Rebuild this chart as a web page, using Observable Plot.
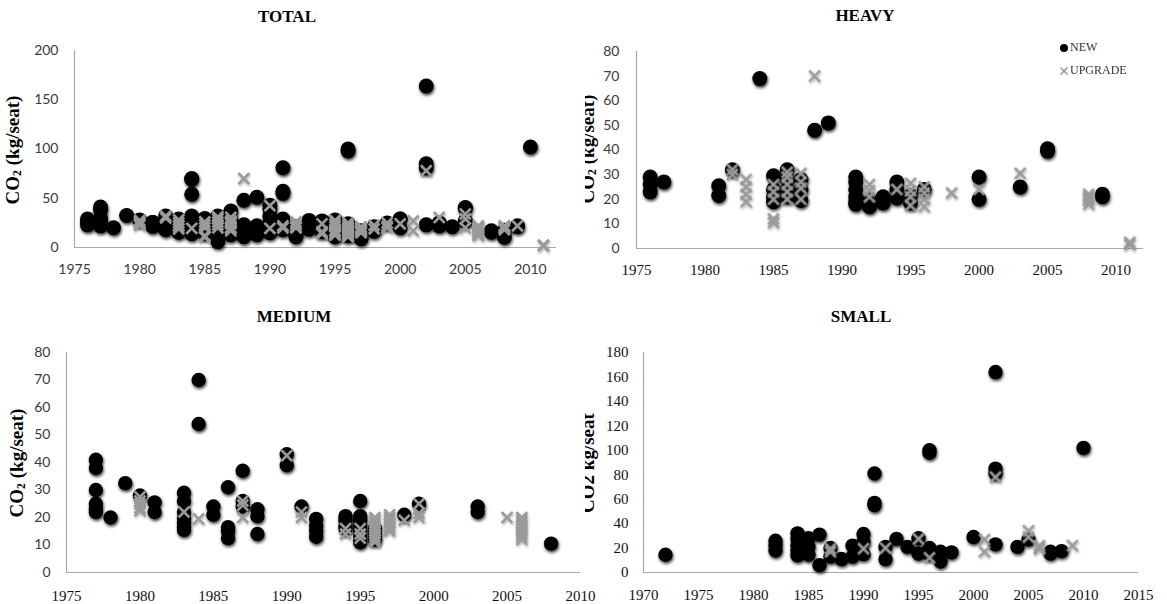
<!DOCTYPE html>
<html><head><meta charset="utf-8">
<script src="https://cdn.jsdelivr.net/npm/d3@7"></script>
<script src="https://cdn.jsdelivr.net/npm/@observablehq/plot@0.6"></script>
<style>
html,body{margin:0;padding:0;background:#fff;}
#chart{position:relative;width:1167px;height:604px;background:#fff;overflow:hidden;}
.panel{position:absolute;}
.clip{overflow:hidden;}
.title{position:absolute;transform:translate(-50%,-50%);font-family:"Liberation Serif",serif;font-weight:bold;font-size:17px;white-space:nowrap;color:#000;}
.ytitle{position:absolute;transform:translate(-50%,-50%) rotate(-90deg);font-family:"Liberation Serif",serif;font-weight:bold;font-size:19px;white-space:nowrap;color:#000;}
.ytitle sub{font-size:0.62em;vertical-align:-0.15em;line-height:0;}
.legend{position:absolute;font-family:"Liberation Serif",serif;font-size:12px;color:#333;}
.legend .row{position:absolute;white-space:nowrap;display:flex;align-items:center;}
.ax-sans-y g[aria-label^="y-axis"] text{font-family:Lato,sans-serif;font-size:14px;fill:#3a3a3a;}
.ax-sans-x g[aria-label^="x-axis"] text{font-family:Lato,sans-serif;font-size:14px;fill:#3a3a3a;}
.ax-serif-y g[aria-label^="y-axis"] text{font-family:"Liberation Serif",serif;font-size:15px;fill:#111;}
.ax-serif-x g[aria-label^="x-axis"] text{font-family:"Liberation Serif",serif;font-size:15px;fill:#111;}
</style>
</head><body>
<div id="chart">
  <div class="panel ax-sans-x ax-sans-y" id="p-total" style="left:0;top:0;width:583px;height:300px;"></div>
  <div class="panel clip ax-serif-x ax-sans-y" id="p-heavy" style="left:585px;top:0;width:582px;height:300px;"></div>
  <div class="panel ax-serif-x ax-sans-y" id="p-medium" style="left:0;top:300px;width:600px;height:304px;"></div>
  <div class="panel clip ax-serif-x ax-serif-y" id="p-small" style="left:585px;top:300px;width:582px;height:304px;"></div>
  <div class="title" style="left:287px;top:17px;">TOTAL</div>
  <div class="title" style="left:865px;top:16px;">HEAVY</div>
  <div class="title" style="left:294px;top:317px;">MEDIUM</div>
  <div class="title" style="left:861px;top:317px;">SMALL</div>
  <div class="ytitle" style="left:13px;top:150px;">CO<sub>2</sub> (kg/seat)</div>
  <div class="ytitle" style="left:17px;top:463px;">CO<sub>2</sub> (kg/seat)</div>
</div>
<script>
// ---------- DATA: [year, CO2 kg/seat] ----------
const heavyNew = [
  [1976,29],[1976,26],[1976,23],
  [1977,27],
  [1981,25.5],[1981,21.5],
  [1982,32],
  [1984,69],
  [1985,29.5],[1985,24],[1985,21],[1985,19],
  [1986,32],[1986,28],[1986,24],[1986,21],
  [1987,28],[1987,24],[1987,19.5],
  [1988,48],
  [1989,51],
  [1991,29],[1991,27],[1991,24],[1991,21],[1991,19],[1991,18],
  [1992,20],[1992,17],
  [1993,21],[1993,18.5],
  [1994,27],[1994,24],[1994,20.5],
  [1995,21.5],[1995,18.5],
  [1996,24],
  [2000,29],[2000,20],
  [2003,25],
  [2005,40.5],[2005,39.5],
  [2009,22],[2009,21]
];
const heavyUpgrade = [
  [1982,32],[1982,30],
  [1983,28],[1983,25],[1983,22],[1983,19],
  [1985,26],[1985,23],[1985,20],[1985,12],[1985,10.5],
  [1986,31],[1986,29],[1986,26],[1986,23],[1986,20],
  [1987,30.5],[1987,27],[1987,24.5],[1987,20],
  [1988,70],
  [1992,26],[1992,23.5],[1992,21],
  [1994,24],
  [1995,26.5],[1995,23.5],[1995,21],[1995,17.5],
  [1996,25],[1996,22.5],[1996,20],[1996,17],
  [1998,22.5],
  [2000,24],
  [2003,30.5],
  [2008,22],[2008,21],[2008,20],[2008,19.5],[2008,18],
  [2011,2.5],[2011,1.5]
];
const mediumNew = [
  [1977,41],[1977,38],[1977,30],[1977,25],[1977,23],[1977,22],
  [1978,20],
  [1979,32.5],
  [1980,28],
  [1981,25.5],[1981,22],
  [1983,29],[1983,26],[1983,22],[1983,19.5],[1983,18],[1983,16.5],[1983,15.5],
  [1984,70],[1984,54],
  [1985,24],[1985,21],
  [1986,31],[1986,16.5],[1986,15],[1986,12.5],
  [1987,37],[1987,26],[1987,24],
  [1988,23],[1988,20.5],[1988,14],
  [1990,43],[1990,39],
  [1991,24],
  [1992,19.5],[1992,17],[1992,15],[1992,13],
  [1994,20.5],[1994,19],[1994,17],[1994,16],
  [1995,26],[1995,20.5],[1995,19],[1995,17],[1995,15],[1995,13],[1995,11],
  [1996,16],[1996,14],[1996,12],
  [1998,21],
  [1999,25],
  [2003,24],[2003,22],
  [2008,10.5]
];
const mediumUpgrade = [
  [1980,27.5],[1980,26],[1980,25],[1980,23.5],[1980,22.5],
  [1983,22],
  [1984,19.5],
  [1987,26],[1987,24.5],[1987,20],
  [1990,42.5],
  [1991,22],[1991,20],
  [1994,16],[1994,14],
  [1995,16],[1995,14],[1995,12.5],
  [1996,20],[1996,19],[1996,18],[1996,17],[1996,16],[1996,15],[1996,14],[1996,13],[1996,12],[1996,11],
  [1997,21],[1997,20],[1997,19],[1997,18],[1997,17],[1997,16],[1997,15],
  [1998,19],
  [1999,25],[1999,21.5],[1999,20],
  [2005,20],
  [2006,20],[2006,19],[2006,18],[2006,17],[2006,16],[2006,15],[2006,14],[2006,13],[2006,12]
];
const smallNew = [
  [1972,14.5],
  [1982,26],[1982,22],[1982,18],
  [1984,32],[1984,27.5],[1984,22],[1984,18],[1984,14],
  [1985,28],[1985,21],[1985,14.5],
  [1986,31],[1986,6],
  [1987,20],[1987,13],
  [1988,11],
  [1989,22],[1989,13],
  [1990,31.5],[1990,25],[1990,15],
  [1991,81],[1991,57],[1991,55],
  [1992,21],[1992,11],
  [1993,27.5],
  [1994,21],
  [1995,28],[1995,15.5],
  [1996,100],[1996,98],[1996,20],[1996,15],
  [1997,17],[1997,9],
  [1998,16.5],
  [2000,29],
  [2002,164],[2002,85],[2002,81],[2002,23],
  [2004,21],
  [2005,27],
  [2007,17],[2007,15.5],
  [2008,17.5],
  [2010,102]
];
const smallUpgrade = [
  [1987,19.5],[1987,17],
  [1990,19.5],
  [1992,20],
  [1995,27.5],
  [1996,12],
  [2001,27],[2001,17],
  [2002,78],
  [2005,34],[2005,29],
  [2006,22],[2006,20],[2006,19],
  [2009,22]
];
// TOTAL is the union of the three classes (points outside its 1975-2012 axis are not shown)
const totalNew = [...heavyNew, ...mediumNew, ...smallNew];
const totalUpgrade = [...heavyUpgrade, ...mediumUpgrade, ...smallUpgrade];

// ---------- TICKS ----------
const yearTicks7510 = [1975,1980,1985,1990,1995,2000,2005,2010];
const yearTicks7015 = [1970,1975,1980,1985,1990,1995,2000,2005,2010,2015];
const totalYTicks = [0,50,100,150,200];
const heavyYTicks = [0,10,20,30,40,50,60,70,80];
const mediumYTicks = [0,10,20,30,40,50,60,70,80];
const smallYTicks = [0,20,40,60,80,100,120,140,160,180];

const seriesNames = ["NEW","UPGRADE"];

let fid = 0;
function panel(elId, o) {
  const inDomain = d => d[0] >= o.xDomain[0] && d[0] <= o.xDomain[1];
  const p = Plot.plot({
    width: o.width, height: o.height,
    marginLeft: o.ml, marginRight: o.mr, marginTop: o.mt, marginBottom: o.mb,
    style: {background: "transparent", overflow: "visible", maxWidth: "none", color: "#222"},
    x: {domain: o.xDomain, ticks: o.xTicks, tickFormat: d => String(d), tickSize: 0, tickPadding: o.xPad, label: null},
    y: {domain: o.yDomain, ticks: o.yTicks, tickSize: 0, tickPadding: o.yPad, label: null},
    marks: [
      Plot.ruleY([o.yDomain[0]], {stroke: "#a8a8a8", strokeWidth: 1.2}),
      Plot.ruleX([o.xDomain[0]], {stroke: "#a8a8a8", strokeWidth: 1.2}),
      Plot.dot(o.newData.filter(inDomain), {x: d => d[0], y: d => d[1], r: o.r, fill: "#000", stroke: "none"}),
      Plot.dot(o.upData.filter(inDomain), {x: d => d[0], y: d => d[1], r: 5, symbol: "times", stroke: "#9a9a9a", strokeWidth: 2.6})
    ]
  });
  const ns = "http://www.w3.org/2000/svg";
  const defs = document.createElementNS(ns, "defs");
  const id = fid++;
  defs.innerHTML =
    `<filter id="shN${id}" x="-50%" y="-50%" width="200%" height="200%"><feDropShadow dx="0.8" dy="2" stdDeviation="1.6" flood-color="#000" flood-opacity="0.75"/></filter>` +
    `<filter id="shU${id}" x="-50%" y="-50%" width="200%" height="200%"><feDropShadow dx="0.6" dy="1.5" stdDeviation="1.2" flood-color="#000" flood-opacity="0.35"/></filter>`;
  p.insertBefore(defs, p.firstChild);
  const dots = p.querySelectorAll('g[aria-label="dot"]');
  if (dots[0]) dots[0].setAttribute("filter", `url(#shN${id})`);
  if (dots[1]) dots[1].setAttribute("filter", `url(#shU${id})`);
  document.getElementById(elId).appendChild(p);
}

panel("p-total", {newData: totalNew, upData: totalUpgrade, xDomain: [1975, 2012], yDomain: [0, 200],
  xTicks: yearTicks7510, yTicks: totalYTicks, width: 583, height: 300, ml: 74, mr: 27, mt: 50, mb: 53, xPad: 17, yPad: 16, r: 7.5});
panel("p-heavy", {newData: heavyNew, upData: heavyUpgrade, xDomain: [1975, 2012], yDomain: [0, 80],
  xTicks: yearTicks7510, yTicks: heavyYTicks, width: 582, height: 300, ml: 51, mr: 24, mt: 51, mb: 52, xPad: 16, yPad: 17, r: 7.5});
panel("p-medium", {newData: mediumNew, upData: mediumUpgrade, xDomain: [1975, 2010], yDomain: [0, 80],
  xTicks: yearTicks7510, yTicks: mediumYTicks, width: 600, height: 304, ml: 66, mr: 20, mt: 52, mb: 32, xPad: 18, yPad: 16, r: 7.2});
panel("p-small", {newData: smallNew, upData: smallUpgrade, xDomain: [1970, 2015], yDomain: [0, 180],
  xTicks: yearTicks7015, yTicks: smallYTicks, width: 582, height: 304, ml: 58, mr: 29, mt: 52, mb: 32, xPad: 17, yPad: 15, r: 7.2});

// axis titles of right-hand panels (partly cut at the panel edge, as in the original figure)
function addYTitle(elId, html, x, y) {
  const d = document.createElement("div");
  d.className = "ytitle"; d.style.left = x + "px"; d.style.top = y + "px"; d.innerHTML = html;
  document.getElementById(elId).appendChild(d);
}
addYTitle("p-heavy", "CO<sub>2</sub> (kg/seat)", 3, 149);
addYTitle("p-small", "CO2 kg/seat", 3, 163);

// legend (HEAVY panel)
const leg = document.createElement("div");
leg.className = "legend"; leg.style.left = "0px"; leg.style.top = "0px";
leg.innerHTML =
  `<div class="row" style="left:474px;top:40px;"><svg width="10" height="10" style="margin-right:1px"><circle cx="5" cy="5" r="4" fill="#000"/></svg><span>${seriesNames[0]}</span></div>` +
  `<div class="row" style="left:474px;top:63px;"><svg width="10" height="10" style="margin-right:1px"><path d="M1.5,1.5L8.5,8.5M8.5,1.5L1.5,8.5" stroke="#9a9a9a" stroke-width="1.6"/></svg><span>${seriesNames[1]}</span></div>`;
document.getElementById("p-heavy").appendChild(leg);
</script>
</body></html>
